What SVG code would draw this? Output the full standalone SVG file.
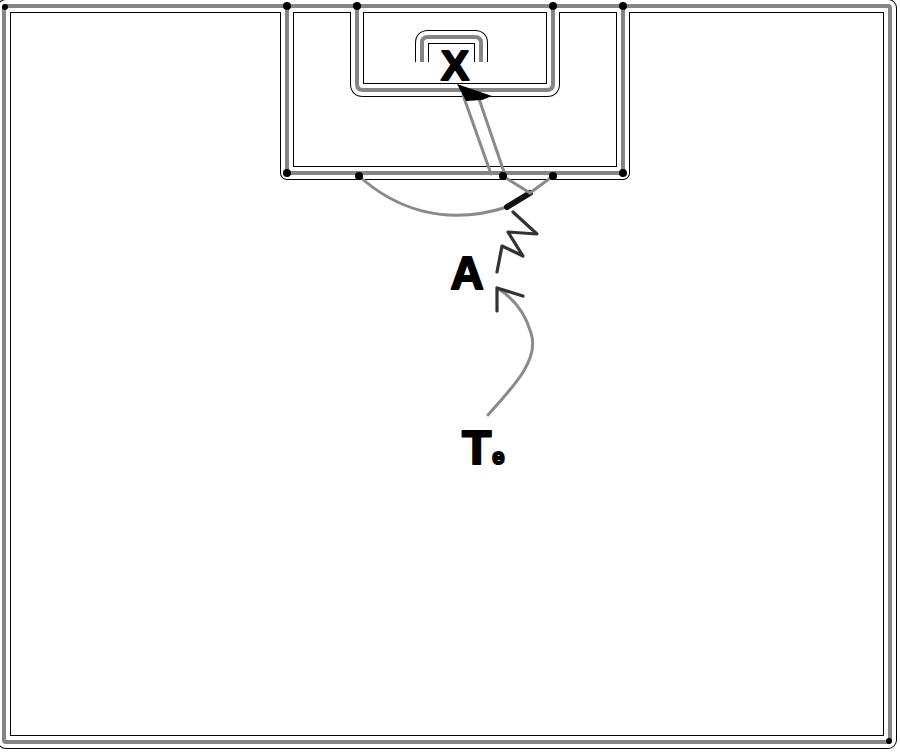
<svg xmlns="http://www.w3.org/2000/svg" width="900" height="752" viewBox="0 0 900 752">
<defs>
<style>
.ol{fill:none;stroke:#000;stroke-width:14;stroke-linejoin:round;stroke-linecap:butt}
.wh{fill:none;stroke:#fff;stroke-width:12;stroke-linejoin:round;stroke-linecap:butt}
.gr{fill:none;stroke:#858585;stroke-width:4;stroke-linejoin:round;stroke-linecap:butt}
.dot{fill:#000}
.conn{fill:none;stroke:#8a8a8a;stroke-width:3;stroke-linecap:round;stroke-linejoin:round}
.dark{fill:none;stroke:#333;stroke-width:3.2;stroke-linecap:round;stroke-linejoin:round}
.lbl{font-family:"Liberation Sans",Arial,sans-serif;font-weight:bold;fill:#000;stroke:#000;stroke-width:2;stroke-linejoin:round}
</style>
<g id="courtlines">
<rect x="4" y="6" width="886" height="736" rx="2"/>
<path d="M287,6 V173 H623 V6"/>
<path d="M357,6 V84 Q357,90 363,90 H547 Q553,90 553,84 V6"/>
<path d="M422,62 V43 Q422,37 428,37 H475 Q481,37 481,43 V62"/>
</g>
</defs>
<rect width="900" height="752" fill="#fff"/>
<g id="court">
<use href="#courtlines" class="ol"/>
<use href="#courtlines" class="wh"/>
<use href="#courtlines" class="gr"/>
<circle class="dot" cx="287" cy="6" r="4"/>
<circle class="dot" cx="357" cy="6" r="4"/>
<circle class="dot" cx="553" cy="6" r="4"/>
<circle class="dot" cx="623" cy="6" r="4"/>
<circle class="dot" cx="287" cy="173" r="4"/>
<circle class="dot" cx="623" cy="173" r="4"/>
<circle class="dot" cx="5" cy="7" r="3"/>
<circle class="dot" cx="889" cy="741" r="3"/>
</g>
<g id="connectors">
<path class="conn" d="M359,176 C392,206 442,228 507,207"/>
<path d="M507,207 L530,193" fill="none" stroke="#111" stroke-width="6" stroke-linecap="round"/>
<path class="conn" d="M503,176 L530,193 L553,176"/>
<path class="conn" d="M463,95 L491,174"/>
<path class="conn" d="M477,93 L504,172"/>
<path class="dark" d="M497,272 L502,246 L523,256 L508,232 L537,234 L513,212"/>
<path class="conn" stroke="#9a9a9a" stroke-width="2.5" d="M488,415 C512,388 540,360 531,333 C525,312 512,297 497,288"/>
<path class="dark" d="M523,296 L497,288 L497,311"/>
<polygon points="457,84 492,96 482,100 466,101" fill="#000"/>
<circle class="dot" cx="359" cy="176" r="4"/>
<circle class="dot" cx="503" cy="176" r="4"/>
<circle class="dot" cx="553" cy="176" r="4"/>
</g>
<g id="node-X"><text class="lbl" x="455" y="80" font-size="42" text-anchor="middle">X</text></g>
<g id="node-A"><text class="lbl" x="467" y="289" font-size="46" text-anchor="middle">A</text></g>
<g id="node-T"><text class="lbl" x="462" y="464" font-size="48">T<tspan font-size="22" dx="1">e</tspan></text></g>
</svg>
